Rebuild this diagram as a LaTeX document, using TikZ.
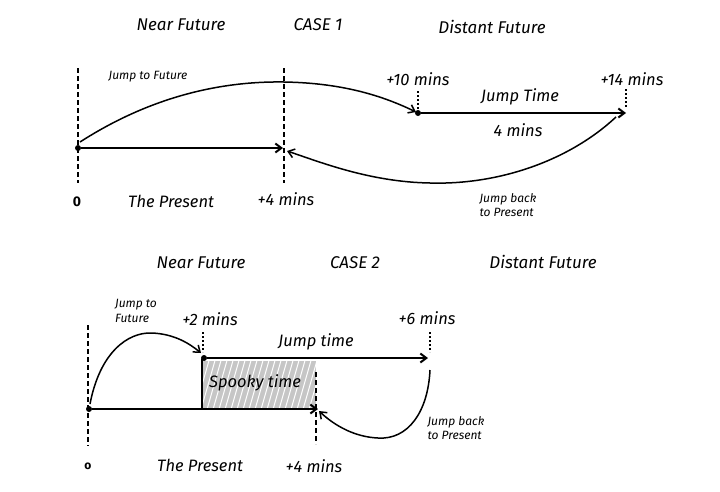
\documentclass[tikz,border=0pt]{standalone}
\usepackage{fontspec}
\setmainfont{Fira Sans}
\usetikzlibrary{arrows.meta}
\begin{document}
\begin{tikzpicture}[x=1pt,y=-1pt,
  title/.style={font=\itshape\fontsize{17}{19}\selectfont},
  lab/.style={font=\itshape\fontsize{16.5}{18}\selectfont},
  small/.style={font=\itshape\fontsize{12}{14.5}\selectfont, align=left},
  dashline/.style={line width=2.2pt, dash pattern=on 5pt off 3pt},
  dotline/.style={line width=2.4pt, dash pattern=on 2pt off 2pt},
  dot/.style={circle, fill=black, inner sep=0pt, minimum size=6pt},
  arr/.style={line width=2pt, -{Straight Barb[length=6pt,width=9pt]}},
  curvearr/.style={line width=1.5pt, -{Straight Barb[length=6pt,width=9pt]}}]
\useasboundingbox (0,0) rectangle (720,491);
% ---------- CASE 1 ----------
\node[title] (nf1) at (181,25) {Near Future};
\node[title] (c1) at (318,25) {CASE 1};
\node[title] (df1) at (492,27) {Distant Future};
\coordinate (v0t) at (78,68); \coordinate (v0b) at (78,183);
\draw[dashline] (v0t) -- (v0b);
\coordinate (v4t) at (284,68); \coordinate (v4b) at (284,183);
\draw[dashline] (v4t) -- (v4b);
\node[dot] (d0) at (78,148) {};
\coordinate (t4) at (283,148);
\draw[arr] (d0) -- (t4);
\node[small] (jf1) at (148,77) {Jump to Future};
\coordinate (s1) at (80,142);
\coordinate (pk1) at (284,82);
\coordinate (e1) at (416,112);
\draw[curvearr] (s1) .. controls (150,97) and (220,81) .. (pk1) .. controls (345,83) and (385,97) .. (e1);
\node[lab] (m10) at (418,79) {+10 mins};
\node[lab] (m14) at (632,79) {+14 mins};
\coordinate (q10t) at (418,91); \coordinate (q10b) at (418,110);
\draw[dotline] (q10t) -- (q10b);
\coordinate (q14t) at (626,89); \coordinate (q14b) at (626,108);
\draw[dotline] (q14t) -- (q14b);
\node[dot] (d10) at (418,113) {};
\coordinate (t14) at (626,113);
\draw[arr] (d10) -- (t14);
\node[lab] (jt1) at (520,97) {Jump Time};
\node[lab] (fm) at (518,130) {4 mins};
\coordinate (b1s) at (616,117);
\coordinate (b1m) at (430,183);
\coordinate (b1e) at (287,151);
\draw[curvearr] (b1s) .. controls (570,160) and (500,185) .. (b1m) .. controls (370,182) and (320,162) .. (b1e);
\node[small] (jb1) at (508,205) {Jump back\\to Present};
\node[font=\bfseries\fontsize{14}{16}\selectfont] (z1) at (77,202) {0};
\node[lab] (tp1) at (171,201) {The Present};
\node[lab] (p41) at (286,199) {+4 mins};
% ---------- CASE 2 ----------
\node[title] (nf2) at (201,263) {Near Future};
\node[title] (c2) at (355,263) {CASE 2};
\node[title] (df2) at (543,262) {Distant Future};
% shaded spooky region
\begin{scope}
  \clip (203,361) rectangle (316,408);
  \fill[gray!45] (203,361) rectangle (316,408);
  \foreach \i in {0,...,30} {
    \draw[white, line width=1pt] (180+\i*6,420) -- (200+\i*6,350);
  }
\end{scope}
\coordinate (sv1) at (202,359); \coordinate (sv2) at (202,408);
\draw[line width=1.8pt] (sv1) -- (sv2);
\node[lab] (sp) at (255,383) {Spooky time};
\coordinate (w0t) at (88,325); \coordinate (w0b) at (88,446);
\draw[dashline] (w0t) -- (w0b);
\coordinate (w4t) at (316,372); \coordinate (w4b) at (316,444);
\draw[dashline] (w4t) -- (w4b);
\node[dot] (e0) at (89,409) {};
\coordinate (u4) at (318,409);
\draw[arr] (e0) -- (u4);
\node[small] (jf2) at (136,311) {Jump to\\Future};
\node[lab] (m2) at (210,319) {+2 mins};
\node[lab] (m6) at (427,318) {+6 mins};
\coordinate (r2t) at (203,332); \coordinate (r2b) at (203,352);
\draw[dotline] (r2t) -- (r2b);
\coordinate (r6t) at (430,332); \coordinate (r6b) at (430,352);
\draw[dotline] (r6t) -- (r6b);
\node[dot] (e2) at (204,358) {};
\coordinate (u6) at (428,358);
\draw[arr] (e2) -- (u6);
\node[lab] (jt2) at (316,342) {Jump time};
\coordinate (s2) at (90,404);
\coordinate (pk2) at (152,333);
\coordinate (f2) at (201,353);
\draw[curvearr] (s2) .. controls (100,352) and (128,332) .. (pk2) .. controls (175,334) and (190,344) .. (f2);
\coordinate (b2s) at (430,370);
\coordinate (b2m) at (378,438);
\coordinate (b2e) at (319,411);
\draw[curvearr] (b2s) .. controls (428,412) and (408,440) .. (b2m) .. controls (355,437) and (335,426) .. (b2e);
\node[small] (jb2) at (456,428) {Jump back\\to Present};
\node[font=\bfseries\fontsize{12}{14}\selectfont] (z2) at (88,466) {o};
\node[lab] (tp2) at (200,465) {The Present};
\node[lab] (p42) at (314,466) {+4 mins};
\end{tikzpicture}
\end{document}
